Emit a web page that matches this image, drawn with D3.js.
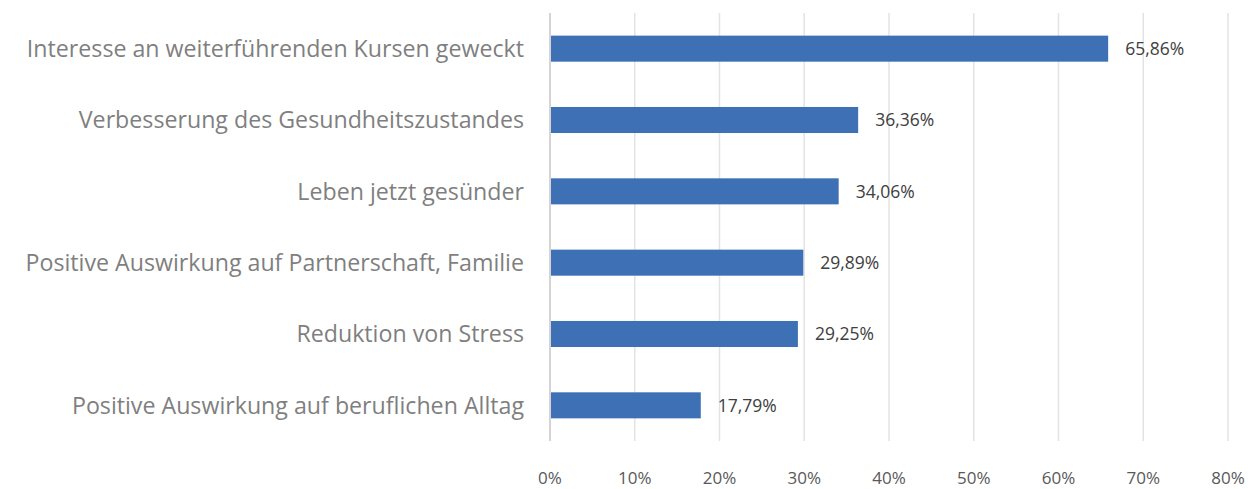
<!DOCTYPE html>
<html>
<head>
<meta charset="utf-8">
<script src="https://cdn.jsdelivr.net/npm/d3@7"></script>
<style>
  body { margin: 0; background: #ffffff; }
  #chart { width: 1254px; height: 489px; }
  text { font-family: "Open Sans", "Noto Sans", sans-serif; }
</style>
</head>
<body>
<div id="chart"></div>
<script>
// categories from top to bottom, values in percent
const categories = [
    "Interesse an weiterführenden Kursen geweckt",
    "Verbesserung des Gesundheitszustandes",
    "Leben jetzt gesünder",
    "Positive Auswirkung auf Partnerschaft, Familie",
    "Reduktion von Stress",
    "Positive Auswirkung auf beruflichen Alltag"
];
const values = [65.86, 36.36, 34.06, 29.89, 29.25, 17.79];
const ticks = [0, 10, 20, 30, 40, 50, 60, 70, 80];

const width = 1254;
const height = 489;
const margin = {top: 13, left: 550, right: 26, bottom: 48};

const svg = d3.select("#chart")
    .append("svg")
    .attr("width", width)
    .attr("height", height);

const xScale = d3.scaleLinear()
    .domain([0, 80])
    .range([margin.left, width - margin.right]);

const yScale = d3.scaleBand()
    .domain(categories)
    .range([margin.top, height - margin.bottom])
    .paddingInner(0.635)
    .paddingOuter(0.3175);

const fmt = v => v.toFixed(2).replace(".", ",") + "%";

// gridlines
svg.append("g")
    .selectAll("line")
    .data(ticks.slice(1))
    .join("line")
    .attr("x1", d => xScale(d))
    .attr("x2", d => xScale(d))
    .attr("y1", margin.top)
    .attr("y2", height - margin.bottom)
    .attr("stroke", "#e3e3e3")
    .attr("stroke-width", 1.5);

// bars
svg.append("g")
    .selectAll("rect")
    .data(values)
    .join("rect")
    .attr("x", xScale(0))
    .attr("y", (d, i) => yScale(categories[i]))
    .attr("width", d => xScale(d) - xScale(0))
    .attr("height", yScale.bandwidth())
    .attr("fill", "#3d70b5");

// vertical axis line
svg.append("line")
    .attr("x1", xScale(0))
    .attr("x2", xScale(0))
    .attr("y1", margin.top)
    .attr("y2", height - margin.bottom)
    .attr("stroke", "#d4d4d4")
    .attr("stroke-width", 2);

// value labels
svg.append("g")
    .selectAll("text")
    .data(values)
    .join("text")
    .attr("x", d => xScale(d) + 17)
    .attr("y", (d, i) => yScale(categories[i]) + yScale.bandwidth() / 2)
    .attr("dy", "0.36em")
    .attr("font-size", 17.5)
    .attr("fill", "#404040")
    .text(d => fmt(d));

// category labels
svg.append("g")
    .selectAll("text")
    .data(categories)
    .join("text")
    .attr("x", 524)
    .attr("y", d => yScale(d) + yScale.bandwidth() / 2)
    .attr("dy", "0.36em")
    .attr("text-anchor", "end")
    .attr("font-size", 23.2)
    .attr("fill", "#7f7f7f")
    .text(d => d);

// x tick labels
svg.append("g")
    .selectAll("text")
    .data(ticks)
    .join("text")
    .attr("x", d => xScale(d))
    .attr("y", 478)
    .attr("dy", "0.36em")
    .attr("text-anchor", "middle")
    .attr("font-size", 17)
    .attr("fill", "#595959")
    .text(d => d + "%");
</script>
</body>
</html>
